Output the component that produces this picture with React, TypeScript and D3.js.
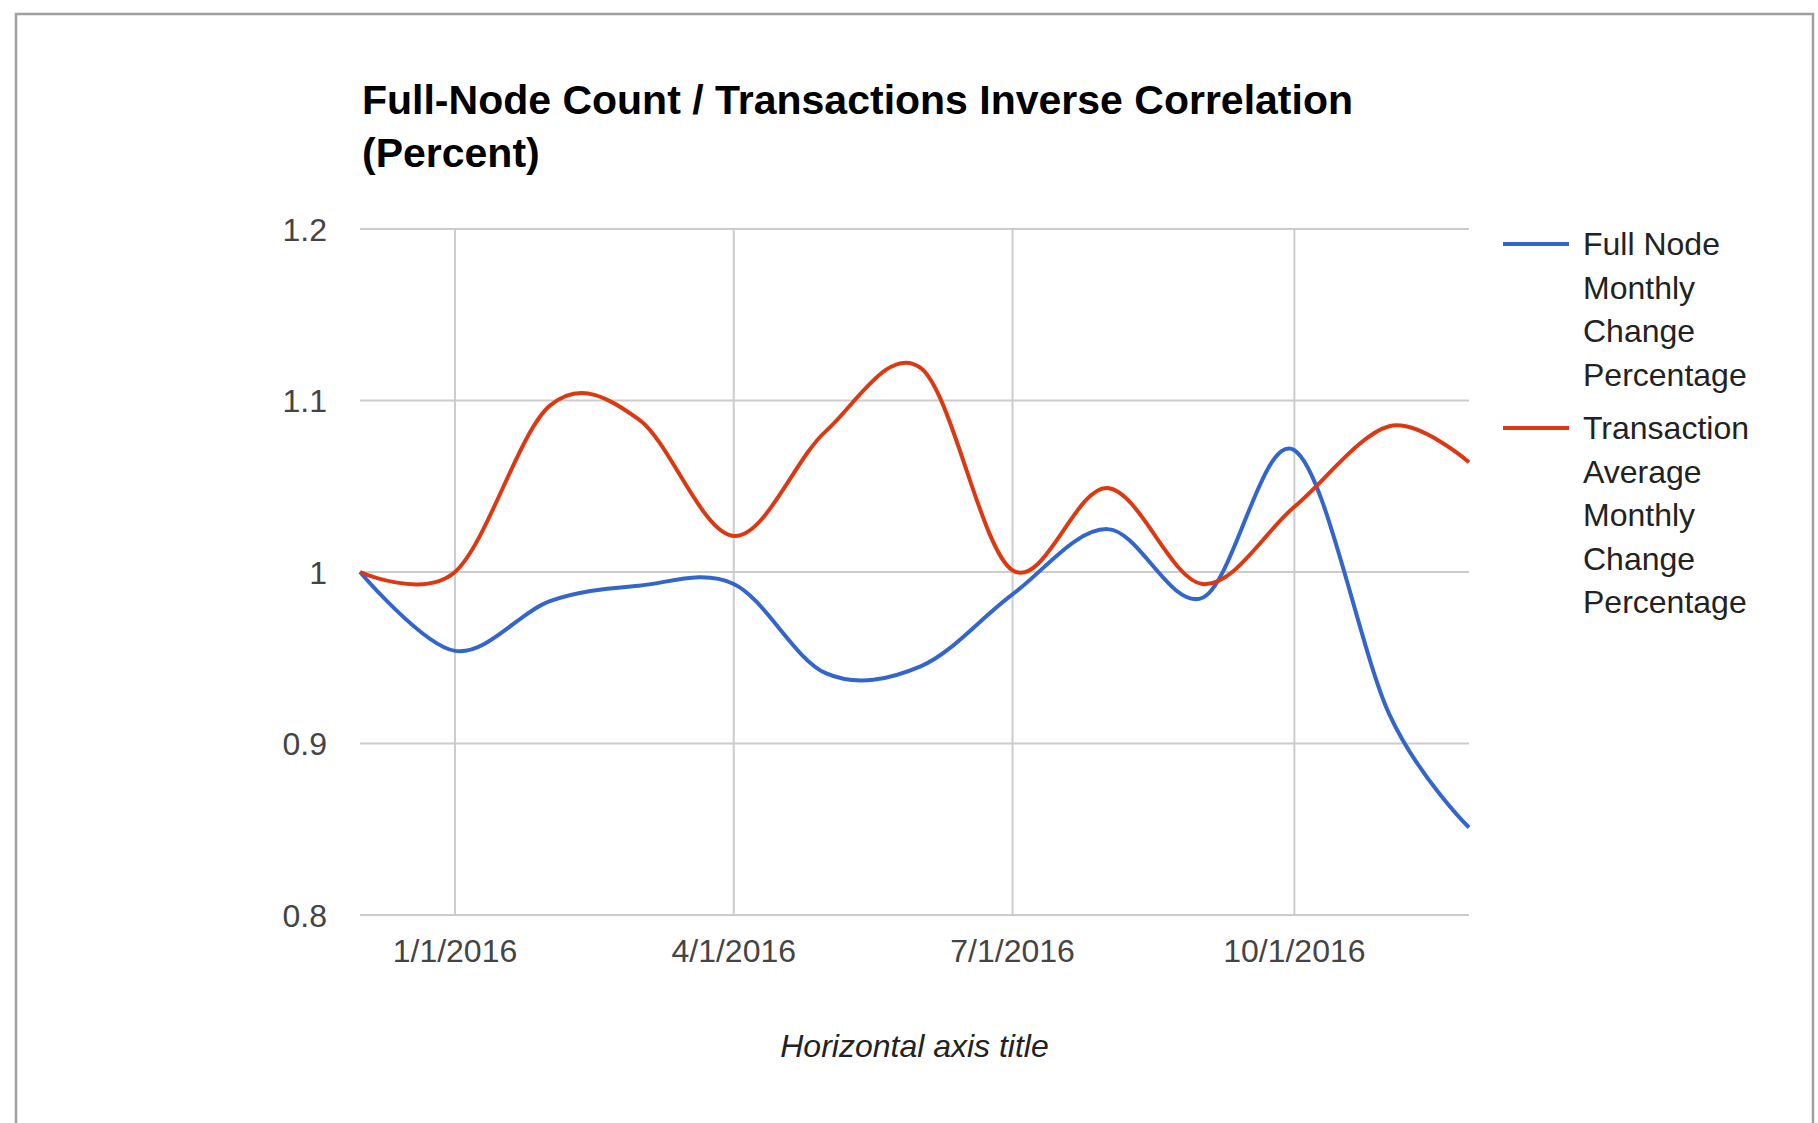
import React from "react";
import * as d3 from "d3";

const monthDates = [
  "2015-12-01", "2016-01-01", "2016-02-01", "2016-03-01", "2016-04-01", "2016-05-01", "2016-06-01",
  "2016-07-01", "2016-08-01", "2016-09-01", "2016-10-01", "2016-11-01", "2016-11-27",
];
const fullNodeChange = [1.0, 0.954, 0.983, 0.992, 0.993, 0.941, 0.945, 0.987, 1.025, 0.985, 1.071, 0.917, 0.851];
const transactionChange = [1.0, 1.0, 1.097, 1.089, 1.021, 1.082, 1.119, 1.001, 1.049, 0.993, 1.038, 1.085, 1.064];

const seriesNames = [
  ["Full Node", "Monthly", "Change", "Percentage"],
  ["Transaction", "Average", "Monthly", "Change", "Percentage"],
];
const seriesColors = ["#3366cc", "#dc3912"];

const xTickDates = ["2016-01-01", "2016-04-01", "2016-07-01", "2016-10-01"];
const xTickLabels = ["1/1/2016", "4/1/2016", "7/1/2016", "10/1/2016"];
const yTicks = [0.8, 0.9, 1, 1.1, 1.2];
const yTickLabels = ["0.8", "0.9", "1", "1.1", "1.2"];

const titleLines = ["Full-Node Count / Transactions Inverse Correlation", "(Percent)"];
const xAxisTitle = "Horizontal axis title";

const W = 1818;
const H = 1123;
const font = "'Liberation Sans', Arial, sans-serif";

export default function App() {
  const parse = d3.utcParse("%Y-%m-%d");
  const dates = monthDates.map((d) => parse(d) as Date);

  const x = d3.scaleUtc().domain([dates[0], dates[dates.length - 1]]).range([360, 1469]);
  const y = d3.scaleLinear().domain([0.8, 1.2]).range([915, 229]);

  const line = d3
    .line<number>()
    .x((_, i) => x(dates[i]))
    .y((v) => y(v))
    .curve(d3.curveCardinal);

  const series = [fullNodeChange, transactionChange];

  return (
    <svg
      width={W}
      height={H}
      style={{ position: "absolute", left: 0, top: 0, background: "#fff" }}
      fontFamily={font}
    >
      <rect x={0} y={0} width={W} height={H} fill="#fff" />
      {/* outer frame, runs off the bottom */}
      <rect x={16} y={14} width={1797} height={1200} fill="none" stroke="#a0a0a0" strokeWidth={2.5} />

      {titleLines.map((t, i) => (
        <text key={t} x={362} y={114 + i * 53} fontSize={41} fontWeight="bold" fill="#000">
          {t}
        </text>
      ))}

      {/* gridlines */}
      {yTicks.map((v) => (
        <line key={"h" + v} x1={360} x2={1469} y1={y(v)} y2={y(v)} stroke="#cccccc" strokeWidth={2} />
      ))}
      {xTickDates.map((d) => {
        const xx = x(parse(d) as Date);
        return <line key={"v" + d} x1={xx} x2={xx} y1={y(1.2)} y2={y(0.8)} stroke="#cccccc" strokeWidth={2} />;
      })}

      {yTicks.map((v, i) => (
        <text key={"yl" + v} x={327} y={y(v) + 11.5} textAnchor="end" fontSize={32} fill="#444">
          {yTickLabels[i]}
        </text>
      ))}
      {xTickDates.map((d, i) => (
        <text key={"xl" + d} x={x(parse(d) as Date)} y={962} textAnchor="middle" fontSize={32} fill="#444">
          {xTickLabels[i]}
        </text>
      ))}

      <text x={(360 + 1469) / 2} y={1057} textAnchor="middle" fontSize={32} fontStyle="italic" fill="#222">
        {xAxisTitle}
      </text>

      {series.map((s, i) => (
        <path key={"s" + i} d={line(s) || ""} fill="none" stroke={seriesColors[i]} strokeWidth={4} strokeLinejoin="round" />
      ))}

      {/* legend */}
      {seriesNames.map((lines, i) => {
        const top = i === 0 ? 255 : 439;
        return (
          <g key={"lg" + i}>
            <line x1={1503} x2={1569} y1={top - 11} y2={top - 11} stroke={seriesColors[i]} strokeWidth={4} />
            {lines.map((t, j) => (
              <text key={t + j} x={1583} y={top + j * 43.5} fontSize={32} fill="#222">
                {t}
              </text>
            ))}
          </g>
        );
      })}
    </svg>
  );
}
